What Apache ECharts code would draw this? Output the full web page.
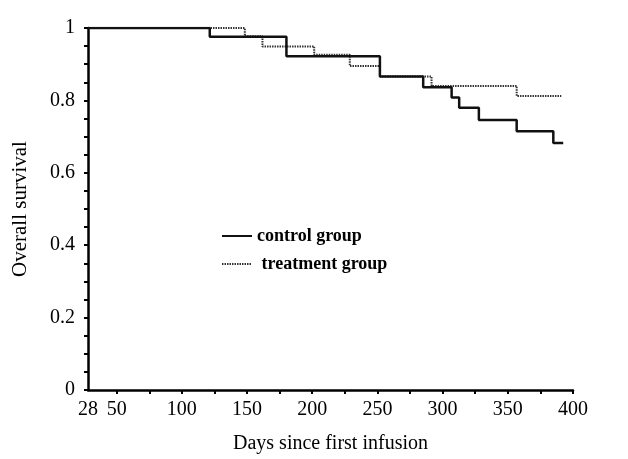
<!DOCTYPE html>
<html>
<head>
<meta charset="utf-8">
<script src="https://cdn.jsdelivr.net/npm/echarts@6/dist/echarts.min.js"></script>
<style>
  html, body { margin: 0; padding: 0; background: #fff; }
  #chart { width: 628px; height: 459px; }
</style>
</head>
<body>
<div id="chart"></div>
<script>
// Kaplan-Meier steps: [day, survival]
const controlGroup = [
  [28, 1.0], [121.4, 0.976], [180.2, 0.922], [251.9, 0.866], [285.1, 0.836],
  [306.9, 0.808], [312.7, 0.780], [327.8, 0.746], [356.8, 0.715], [384.9, 0.682],
  [392.5, 0.682]
];
const treatmentGroup = [
  [28, 1.0], [148.3, 0.977], [161.8, 0.949], [201.5, 0.926], [228.8, 0.895],
  [251.9, 0.866], [291.5, 0.840], [356.8, 0.812], [391, 0.812]
];
const xLabels = [28, 50, 100, 150, 200, 250, 300, 350, 400];
const xTicks = [50, 75, 100, 125, 150, 175, 200, 225, 250, 275, 300, 325, 350, 375, 400];
const yLabels = [0, 0.2, 0.4, 0.6, 0.8, 1];
const yTicks = [0, 0.05, 0.1, 0.15, 0.2, 0.25, 0.3, 0.35, 0.4, 0.45, 0.5,
  0.55, 0.6, 0.65, 0.7, 0.75, 0.8, 0.85, 0.9, 0.95, 1];

const serif = "Liberation Serif";
const chart = echarts.init(document.getElementById("chart"));

const option = {
  animation: false,
  backgroundColor: "#fff",
  grid: { left: 88, right: 55, top: 28, bottom: 66 },
  legend: {
    orient: "vertical",
    left: 216,
    top: 222,
    itemWidth: 30,
    itemHeight: 14,
    itemGap: 10,
    itemStyle: { opacity: 0 },
    textStyle: { fontFamily: serif, fontWeight: "bold", fontSize: 18, color: "#000" },
    data: ["control group", " treatment group"]
  },
  xAxis: {
    type: "value",
    min: 28,
    max: 400,
    name: "Days since first infusion",
    nameLocation: "middle",
    nameGap: 44,
    nameTextStyle: { fontFamily: serif, fontSize: 20, color: "#000" },
    axisLine: { lineStyle: { color: "#000", width: 2.5 } },
    axisTick: { customValues: xTicks, length: 4, lineStyle: { color: "#000", width: 2 } },
    axisLabel: {
      customValues: xLabels,
      margin: 10,
      fontFamily: serif,
      fontSize: 20,
      color: "#000"
    },
    splitLine: { show: false }
  },
  yAxis: {
    type: "value",
    min: 0,
    max: 1,
    name: "Overall survival",
    nameLocation: "middle",
    nameGap: 57,
    nameTextStyle: { fontFamily: serif, fontSize: 21, color: "#000" },
    axisLine: { show: true, lineStyle: { color: "#000", width: 2.5 } },
    axisTick: { show: true, customValues: yTicks, length: 4, lineStyle: { color: "#000", width: 2 } },
    axisLabel: {
      customValues: yLabels,
      margin: 13,
      fontFamily: serif,
      fontSize: 20,
      color: "#000"
    },
    splitLine: { show: false }
  },
  series: [
    {
      name: "control group",
      type: "line",
      step: "end",
      symbol: "none",
      data: controlGroup,
      color: "#111",
      lineStyle: { color: "#111", width: 2.5 },
      z: 3
    },
    {
      name: " treatment group",
      type: "line",
      step: "end",
      symbol: "none",
      data: treatmentGroup,
      color: "#333",
      lineStyle: { color: "#333", width: 2, type: [1.5, 1] },
      z: 2
    }
  ]
};

chart.setOption(option);
</script>
</body>
</html>
